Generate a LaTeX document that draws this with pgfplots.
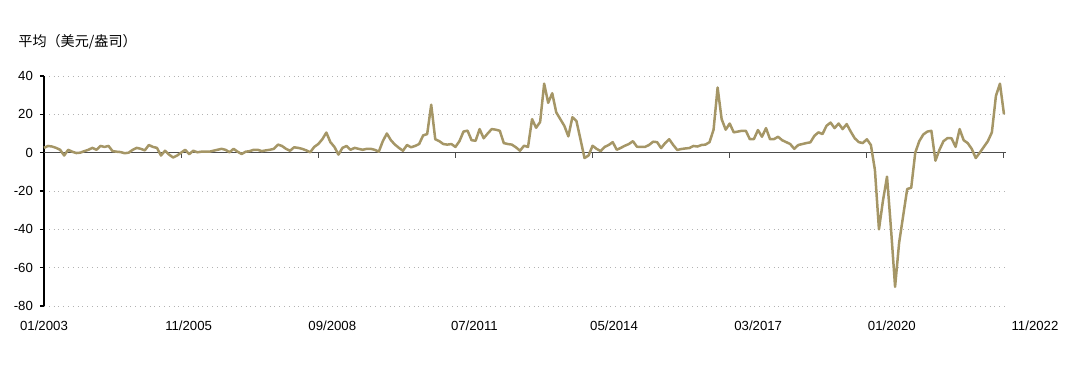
\documentclass[border=0pt]{standalone}
\usepackage{fontspec}
\setmainfont{Liberation Sans}
\newfontfamily\cjk{Noto Sans CJK SC}
\usepackage{pgfplots}
\pgfplotsset{compat=1.18}
\definecolor{goldline}{RGB}{165,150,102}
\begin{document}
\begin{tikzpicture}
\begin{axis}[
  scale only axis, width=481pt, height=115pt,
  xmin=0, xmax=238.5, ymin=-80, ymax=40,
  axis x line*=bottom, axis y line*=left,
  x axis line style={draw=none},
  y axis line style={black, line width=1.2pt, -},
  ytick={-80,-60,...,40},
  xtick={0,34,...,238},
  xticklabels={01/2003,\hspace*{7.5pt}11/2005,\hspace*{14pt}09/2008,\hspace*{19pt}07/2011,\hspace*{21.5pt}05/2014,\hspace*{28.5pt}03/2017,\hspace*{25pt}01/2020,\hspace*{31pt}11/2022},
  xticklabel style={yshift=-2pt},
  xtick style={draw=none},
  ytick style={black, line width=0.8pt},
  tick align=outside, major tick length=2pt,
  ymajorgrids, grid style={gray!60, dotted, line width=0.4pt},
  tick label style={font=\fontsize{6.6}{7}\selectfont},
  /pgf/number format/assume math mode=true,
  clip=false,
]
\draw[line width=0.6pt, black!70] (axis cs:0,0) -- (axis cs:238.5,0);
\pgfplotsinvokeforeach{34,68,102,136,170,204,238}{\draw[line width=0.5pt, black!70] (axis cs:#1,0) -- ([yshift=-2.5pt]axis cs:#1,0);}
\addplot[no markers, line width=1.25pt, color=goldline, line join=round] coordinates {
(0,2.5)(1,3.5)(2,3.2)(3,2.5)(4,1.5)(5,-1.5)(6,1.5)(7,0.5)(8,-0.2)(9,0)
(10,0.8)(11,1.5)(12,2.5)(13,1.5)(14,3.5)(15,3)(16,3.5)(17,0.8)(18,0.5)(19,0.3)
(20,-0.3)(21,0)(22,1.5)(23,2.5)(24,2)(25,1.2)(26,4)(27,3)(28,2.5)(29,-1.5)
(30,1)(31,-1)(32,-2.5)(33,-1.5)(34,0)(35,1.5)(36,-0.8)(37,1)(38,0.2)(39,0.5)
(40,0.5)(41,0.5)(42,1)(43,1.5)(44,2)(45,1.5)(46,0.2)(47,2)(48,0.5)(49,-0.7)
(50,0.5)(51,0.8)(52,1.5)(53,1.5)(54,0.8)(55,1.2)(56,1.5)(57,2)(58,4.2)(59,3.5)
(60,2)(61,1)(62,2.8)(63,2.5)(64,2)(65,1.2)(66,0.2)(67,3)(68,4.5)(69,7)
(70,10.5)(71,5.5)(72,3)(73,-1)(74,2.5)(75,3.5)(76,1.5)(77,2.5)(78,2)(79,1.5)
(80,2)(81,2)(82,1.5)(83,0.5)(84,6)(85,10)(86,6.5)(87,4.2)(88,2.5)(89,1)
(90,4)(91,2.8)(92,3.5)(93,4.5)(94,9)(95,9.7)(96,25)(97,7)(98,6)(99,4.5)
(100,4.2)(101,4.5)(102,3)(103,6)(104,11)(105,11.5)(106,6.5)(107,6.2)(108,12.3)(109,7.5)
(110,10)(111,12.3)(112,12)(113,11.4)(114,5)(115,4.5)(116,4.2)(117,2.8)(118,1)(119,3.6)
(120,3)(121,17.5)(122,13)(123,16)(124,36)(125,26)(126,31)(127,21)(128,17.5)(129,14)
(130,8.5)(131,18.5)(132,16.5)(133,7)(134,-2.8)(135,-1.5)(136,3.6)(137,2)(138,0.8)(139,3)
(140,4)(141,5.5)(142,1.5)(143,2.5)(144,3.6)(145,4.5)(146,6)(147,3.1)(148,3)(149,3)
(150,4)(151,5.7)(152,5.5)(153,2.4)(154,5)(155,7)(156,4)(157,1.4)(158,1.9)(159,2.2)
(160,2.4)(161,3.5)(162,3.2)(163,4)(164,4.2)(165,5.5)(166,12)(167,34)(168,17.5)(169,12)
(170,15.2)(171,10.6)(172,11)(173,11.4)(174,11.4)(175,7)(176,7.1)(177,11.8)(178,8.3)(179,12.8)
(180,7)(181,7.1)(182,8.3)(183,6.5)(184,5.5)(185,4.5)(186,2)(187,4)(188,4.5)(189,5)
(190,5.4)(191,8.8)(192,10.6)(193,9.7)(194,14)(195,15.7)(196,12.8)(197,15.2)(198,12.3)(199,14.9)
(200,11)(201,7.5)(202,5.5)(203,5)(204,7)(205,4)(206,-9)(207,-40)(208,-25)(209,-12.5)
(210,-40)(211,-70)(212,-47)(213,-33)(214,-19)(215,-18.3)(216,0)(217,6)(218,9.5)(219,11)
(220,11.4)(221,-4.2)(222,1.5)(223,6)(224,7.6)(225,7.5)(226,3)(227,12.3)(228,6.5)(229,5)
(230,2)(231,-2.8)(232,0)(233,3)(234,6)(235,10.6)(236,29.6)(237,36)(238,20)
};
\end{axis}
\node[anchor=west, inner sep=0pt, font=\cjk\fontsize{7.05}{8}\selectfont] at (-13pt,132pt) {平均（美元/盎司）};
\pgfresetboundingbox
\path[use as bounding box] (-22pt,-41pt) rectangle (518pt,153pt);
\end{tikzpicture}
\end{document}
